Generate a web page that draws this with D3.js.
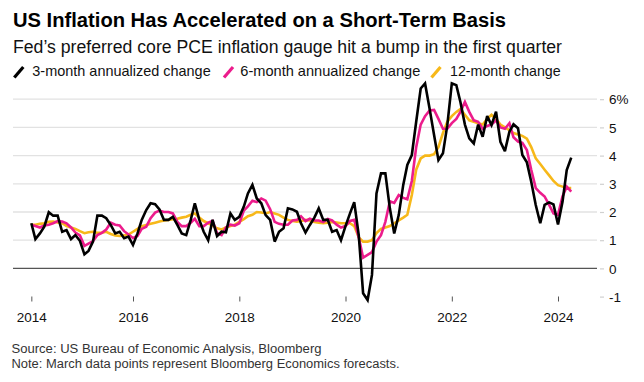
<!DOCTYPE html>
<html>
<head>
<meta charset="utf-8">
<script src="https://cdn.jsdelivr.net/npm/d3@7"></script>
<style>
  html, body { margin: 0; padding: 0; background: #fff; }
  svg { display: block; font-family: "Liberation Sans", Arial, Helvetica, sans-serif; }
</style>
</head>
<body>
<svg id="chart" width="644" height="382"></svg>
<script>
// ---- data (monthly, Jan 2014 .. Mar 2024) ----
const startYear = 2014, startMonth = 0;
const threeMonth = [
  1.60, 1.04, 1.24, 1.48, 1.99, 1.87, 1.87, 1.30, 1.36, 1.04, 1.18, 0.98,
  0.50, 0.62, 0.95, 1.87, 1.87, 1.78, 1.54, 1.24, 1.30, 1.07, 1.13, 0.83,
  1.24, 1.72, 2.07, 2.31, 2.28, 2.09, 1.72, 1.72, 1.83, 1.54, 1.24, 1.18,
  1.72, 2.31, 1.72, 1.30, 1.00, 1.72, 1.15, 1.30, 1.28, 1.95, 1.72, 1.83,
  2.19, 2.66, 2.96, 2.48, 2.31, 1.89, 1.72, 0.95, 1.30, 1.42, 2.13, 2.09,
  2.01, 1.60, 1.27, 1.54, 1.80, 2.13, 1.72, 1.72, 1.30, 1.36, 1.00, 1.50,
  1.95, 2.35, 1.18, -0.88, -1.12, -0.23, 2.66, 3.37, 3.37, 2.13, 1.24, 1.89,
  2.96, 3.67, 4.02, 5.20, 6.38, 6.56, 5.67, 4.73, 3.84, 4.08, 5.08, 6.56,
  6.50, 5.90, 5.10, 4.61, 4.43, 5.10, 4.67, 5.40, 5.08, 5.56, 4.49, 4.16,
  4.85, 5.11, 4.97, 4.02, 3.76, 3.07, 2.25, 1.60, 2.25, 2.34, 2.27, 1.56,
  2.36, 3.49, 3.93
];
const sixMonth = [
  1.55, 1.50, 1.45, 1.52, 1.55, 1.60, 1.68, 1.66, 1.60, 1.45, 1.27, 1.17,
  0.80, 0.88, 0.97, 1.18, 1.26, 1.38, 1.62, 1.55, 1.52, 1.32, 1.20, 1.08,
  1.15, 1.40, 1.48, 1.78, 1.98, 2.05, 2.00, 2.00, 1.95, 1.65, 1.50, 1.50,
  1.62, 1.76, 1.50, 1.50, 1.62, 1.68, 1.25, 1.18, 1.45, 1.55, 1.52, 1.60,
  2.05, 2.20, 2.40, 2.35, 2.48, 2.40, 2.10, 1.65, 1.58, 1.55, 1.55, 1.70,
  1.72, 1.85, 1.68, 1.76, 1.70, 1.70, 1.64, 1.75, 1.70, 1.55, 1.45, 1.50,
  1.68, 1.72, 1.10, 0.38, 0.48, 0.58, 0.95, 1.18, 1.65, 2.38, 2.32, 2.60,
  2.50, 2.45, 3.10, 4.30, 5.10, 5.40, 5.60, 5.62, 5.30, 4.95, 4.95, 5.15,
  5.30, 5.55, 5.90, 5.55, 5.25, 5.20, 4.95, 5.05, 5.10, 5.25, 5.00, 4.95,
  5.15, 4.65, 4.50, 4.45, 4.20, 3.50, 2.85, 2.68, 2.55, 2.25, 1.95, 1.90,
  2.55, 2.90, 2.72
];
const twelveMonth = [
  1.55, 1.55, 1.58, 1.60, 1.65, 1.66, 1.63, 1.60, 1.50, 1.45, 1.40, 1.32,
  1.25, 1.28, 1.30, 1.26, 1.27, 1.30, 1.22, 1.17, 1.15, 1.17, 1.20, 1.30,
  1.40, 1.50, 1.54, 1.58, 1.62, 1.66, 1.70, 1.72, 1.74, 1.76, 1.80, 1.83,
  1.90, 1.95, 1.80, 1.68, 1.60, 1.52, 1.42, 1.38, 1.45, 1.50, 1.55, 1.65,
  1.75, 1.85, 1.90, 2.00, 1.98, 1.95, 2.00, 1.95, 1.90, 1.80, 1.72, 1.68,
  1.66, 1.68, 1.72, 1.70, 1.65, 1.62, 1.60, 1.62, 1.65, 1.63, 1.60, 1.60,
  1.60, 1.50, 1.10, 0.95, 0.95, 1.00, 1.25, 1.40, 1.45, 1.50, 1.60, 1.70,
  1.80, 1.90, 2.60, 3.50, 3.90, 4.00, 4.00, 4.05, 4.30, 4.80, 5.20, 5.40,
  5.55, 5.65, 5.45, 5.25, 5.20, 5.15, 5.10, 5.30, 5.45, 5.30, 5.10, 5.00,
  4.90, 4.80, 4.75, 4.70, 4.60, 4.30, 3.90, 3.70, 3.50, 3.30, 3.10, 2.95,
  2.90, 2.85, 2.85
];
const seriesNames = ["3-month annualized change", "6-month annualized change", "12-month change"];
const seriesColors = ["#000000", "#ec1c8c", "#f7b819"];
const yTickValues = [-1, 0, 1, 2, 3, 4, 5, 6];
const xTickYears = [2014, 2016, 2018, 2020, 2022, 2024];
const titleText = "US Inflation Has Accelerated on a Short-Term Basis";
const subtitleText = "Fed\u2019s preferred core PCE inflation gauge hit a bump in the first quarter";
const sourceText = "Source: US Bureau of Economic Analysis, Bloomberg";
const noteText = "Note: March data points represent Bloomberg Economics forecasts.";

// ---- build ----
const svg = d3.select("#chart");
// each monthly value is plotted at month end
const dateOf = i => new Date(startYear, startMonth + i + 1, 1);

const x = d3.scaleTime()
  .domain([new Date(2016, 0, 1), new Date(2024, 0, 1)])
  .range([133, 558]);
const y = d3.scaleLinear().domain([0, 6]).range([268.4, 99.2]);

const gridLeft = 13, gridRight = 597;

// gridlines
svg.append("g").selectAll("line")
  .data(yTickValues.filter(v => v > 0))
  .join("line")
  .attr("x1", gridLeft).attr("x2", gridRight)
  .attr("y1", d => y(d)).attr("y2", d => y(d))
  .attr("stroke", "#e2e2e2").attr("stroke-width", 1.3);

// y axis on right
const yAxis = d3.axisRight(y)
  .tickValues(yTickValues)
  .tickSize(4)
  .tickPadding(5)
  .tickFormat(d => d === 6 ? "6%" : String(d));
const gy = svg.append("g").attr("transform", `translate(600,0)`).call(yAxis);
gy.select(".domain").remove();
gy.selectAll(".tick line").attr("stroke", "#d0d0d0").attr("stroke-width", 1.2);
gy.selectAll(".tick text")
  .attr("font-size", "13.5px").attr("fill", "#111")
  .attr("dy", "0.35em");

// zero line
svg.append("line")
  .attr("x1", gridLeft).attr("x2", gridRight)
  .attr("y1", y(0)).attr("y2", y(0))
  .attr("stroke", "#555").attr("stroke-width", 1.3);

// x axis
const xTickDates = xTickYears.map((yr, k) => k === 0 ? dateOf(0) : new Date(yr, 0, 1));
const xAxis = d3.axisBottom(x)
  .tickValues(xTickDates)
  .tickSize(5)
  .tickPadding(11)
  .tickFormat((d, k) => String(xTickYears[k]));
const gx = svg.append("g").attr("transform", `translate(0,296.5)`).call(xAxis);
gx.select(".domain").remove();
gx.selectAll(".tick line").attr("stroke", "#555").attr("stroke-width", 1);
gx.selectAll(".tick text").attr("font-size", "13.5px").attr("fill", "#111");

// lines
const allSeries = [threeMonth, sixMonth, twelveMonth];
const line = d3.line()
  .x((d, i) => x(dateOf(i)))
  .y(d => y(d))
  .curve(d3.curveLinear);
[2, 1, 0].forEach(k => {
  svg.append("path")
    .datum(allSeries[k])
    .attr("d", line)
    .attr("fill", "none")
    .attr("stroke", seriesColors[k])
    .attr("stroke-width", 2.6)
    .attr("stroke-linejoin", "miter")
    .attr("stroke-miterlimit", 3);
});

// title / subtitle
svg.append("text").text(titleText)
  .attr("x", 13).attr("y", 27.3)
  .attr("font-size", "20px").attr("font-weight", "bold").attr("fill", "#000")
  .attr("textLength", 493).attr("lengthAdjust", "spacingAndGlyphs");
svg.append("text").text(subtitleText)
  .attr("x", 13).attr("y", 52.7)
  .attr("font-size", "17.5px").attr("fill", "#111")
  .attr("textLength", 549).attr("lengthAdjust", "spacingAndGlyphs");

// legend
const legendPos = [
  { sx: 14.3, tx: 32.3, w: 178.4 },
  { sx: 224, tx: 240.3, w: 180 },
  { sx: 431.5, tx: 450, w: 110.7 }
];
const lg = svg.append("g");
seriesNames.forEach((name, k) => {
  const p = legendPos[k];
  lg.append("line")
    .attr("x1", p.sx).attr("y1", 77.5)
    .attr("x2", p.sx + 9).attr("y2", 67)
    .attr("stroke", seriesColors[k]).attr("stroke-width", 3.2)
    .attr("stroke-linecap", "butt");
  lg.append("text").text(name)
    .attr("x", p.tx).attr("y", 76.3)
    .attr("font-size", "14.2px").attr("fill", "#111")
    .attr("textLength", p.w).attr("lengthAdjust", "spacingAndGlyphs");
});

// footnotes
svg.append("text").text(sourceText)
  .attr("x", 11.5).attr("y", 353)
  .attr("font-size", "12px").attr("fill", "#333")
  .attr("textLength", 310).attr("lengthAdjust", "spacingAndGlyphs");
svg.append("text").text(noteText)
  .attr("x", 11.5).attr("y", 368)
  .attr("font-size", "12px").attr("fill", "#333")
  .attr("textLength", 388).attr("lengthAdjust", "spacingAndGlyphs");
</script>
</body>
</html>
